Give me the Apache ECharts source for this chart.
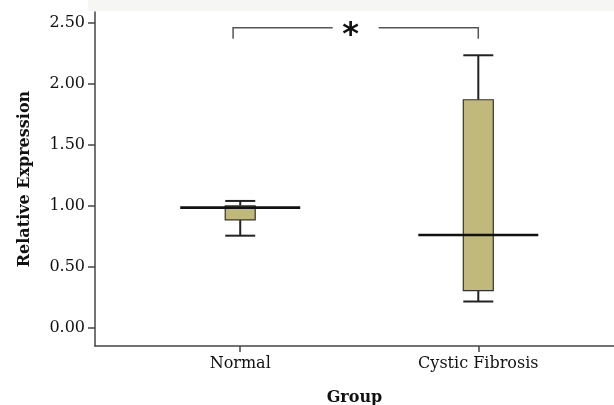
<!DOCTYPE html>
<html>
<head>
<meta charset="utf-8">
<script src="https://cdn.jsdelivr.net/npm/echarts@6/dist/echarts.min.js"></script>
<style>
  html, body { margin: 0; padding: 0; background: #fff; }
  #chart { width: 614px; height: 405px; }
</style>
</head>
<body>
<div id="chart"></div>
<script>
// groups and their x positions on the value axis
var categories = ['Normal', 'Cystic Fibrosis'];
var groupPos = [1, 2];

// box plot stats per group
var whiskerLow  = [0.755, 0.215];
var boxLow      = [0.885, 0.305];
var medians     = [0.985, 0.76];
var boxHigh     = [1.00, 1.87];
var whiskerHigh = [1.04, 2.235];

// y tick labels
var yTicks = [0, 0.5, 1, 1.5, 2, 2.5];

// significance bracket: x ends, top and leg ends, marker
var bracketX = [0.97, 2.0];
var bracketTop = 2.46;
var bracketLeg = 2.37;
var bracketMark = '*';

var boxRows = groupPos.map(function (x, i) {
    return [x, whiskerLow[i], boxLow[i], medians[i], boxHigh[i], whiskerHigh[i]];
});

var lineCol = '#222';

function renderBox(params, api) {
    var x = api.value(0);
    var wl = api.coord([x, api.value(1)]);
    var q1 = api.coord([x, api.value(2)]);
    var md = api.coord([x, api.value(3)]);
    var q3 = api.coord([x, api.value(4)]);
    var wh = api.coord([x, api.value(5)]);
    var half = 15, medHalf = 60;
    var ln = { stroke: lineCol, lineWidth: 2 };
    return {
        type: 'group',
        children: [
            { type: 'line', shape: { x1: wl[0], y1: wl[1], x2: q1[0], y2: q1[1] }, style: ln },
            { type: 'line', shape: { x1: q3[0], y1: q3[1], x2: wh[0], y2: wh[1] }, style: ln },
            { type: 'line', shape: { x1: wl[0] - half, y1: wl[1], x2: wl[0] + half, y2: wl[1] }, style: ln },
            { type: 'line', shape: { x1: wh[0] - half, y1: wh[1], x2: wh[0] + half, y2: wh[1] }, style: ln },
            {
                type: 'rect',
                shape: { x: q3[0] - half, y: q3[1], width: half * 2, height: q1[1] - q3[1] },
                style: { fill: '#c0b97b', stroke: '#333', lineWidth: 1.2 }
            },
            {
                type: 'line',
                shape: { x1: md[0] - medHalf, y1: md[1], x2: md[0] + medHalf, y2: md[1] },
                style: { stroke: '#111', lineWidth: 2.6 }
            }
        ]
    };
}

function renderBracket(params, api) {
    var l0 = api.coord([api.value(0), api.value(3)]);
    var l1 = api.coord([api.value(0), api.value(2)]);
    var r1 = api.coord([api.value(1), api.value(2)]);
    var r0 = api.coord([api.value(1), api.value(3)]);
    var mid = (l1[0] + r1[0]) / 2;
    var gap = 23;
    var st = { stroke: '#555', lineWidth: 1.5, fill: null };
    return {
        type: 'group',
        children: [
            { type: 'polyline', shape: { points: [l0, l1, [mid - gap, l1[1]]] }, style: st },
            { type: 'polyline', shape: { points: [[mid + gap, r1[1]], r1, r0] }, style: st },
            {
                type: 'text',
                style: {
                    x: mid - 5, y: l1[1] + 8, text: bracketMark,
                    font: 'bold 32px "DejaVu Sans"', fill: '#111',
                    align: 'center', verticalAlign: 'middle'
                }
            }
        ]
    };
}

var chart = echarts.init(document.getElementById('chart'));
chart.setOption({
    backgroundColor: '#fff',
    animation: false,
    graphic: [{
        type: 'rect', left: 88, top: 0, z: -10,
        shape: { width: 526, height: 11 },
        style: { fill: '#f6f6f4' }
    }],
    grid: { left: 95, right: 0, top: 12, bottom: 59, outerBoundsMode: 'none' },
    xAxis: {
        type: 'value',
        min: 0.39, max: 2.57,
        name: 'Group', nameLocation: 'middle', nameGap: 44,
        nameTextStyle: { fontFamily: 'DejaVu Serif', fontWeight: 'bold', fontSize: 16, color: '#111' },
        axisLine: { show: true, onZero: false, lineStyle: { color: '#444', width: 1.5 } },
        axisTick: { show: true, length: 6, customValues: groupPos, lineStyle: { color: '#444', width: 1.5 } },
        axisLabel: {
            customValues: groupPos, margin: 10,
            fontFamily: 'DejaVu Serif', fontSize: 16, color: '#111',
            formatter: function (v) { return categories[groupPos.indexOf(v)] || ''; }
        },
        splitLine: { show: false }
    },
    yAxis: {
        type: 'value',
        min: -0.15, max: 2.59,
        name: 'Relative Expression', nameLocation: 'middle', nameGap: 62,
        nameTextStyle: { fontFamily: 'DejaVu Serif', fontWeight: 'bold', fontSize: 16, color: '#111' },
        axisLine: { show: true, onZero: false, lineStyle: { color: '#444', width: 1.5 } },
        axisTick: { show: true, length: 7, customValues: yTicks, lineStyle: { color: '#444', width: 1.5 } },
        axisLabel: {
            customValues: yTicks, margin: 10,
            fontFamily: 'DejaVu Serif', fontSize: 16, color: '#111',
            formatter: function (v) { return v.toFixed(2); }
        },
        splitLine: { show: false }
    },
    series: [
        {
            type: 'custom',
            renderItem: renderBox,
            encode: { x: 0, y: [1, 2, 3, 4, 5] },
            data: boxRows
        },
        {
            type: 'custom',
            renderItem: renderBracket,
            encode: { x: [0, 1], y: [2, 3] },
            data: [[bracketX[0], bracketX[1], bracketTop, bracketLeg]]
        }
    ]
});
</script>
</body>
</html>
